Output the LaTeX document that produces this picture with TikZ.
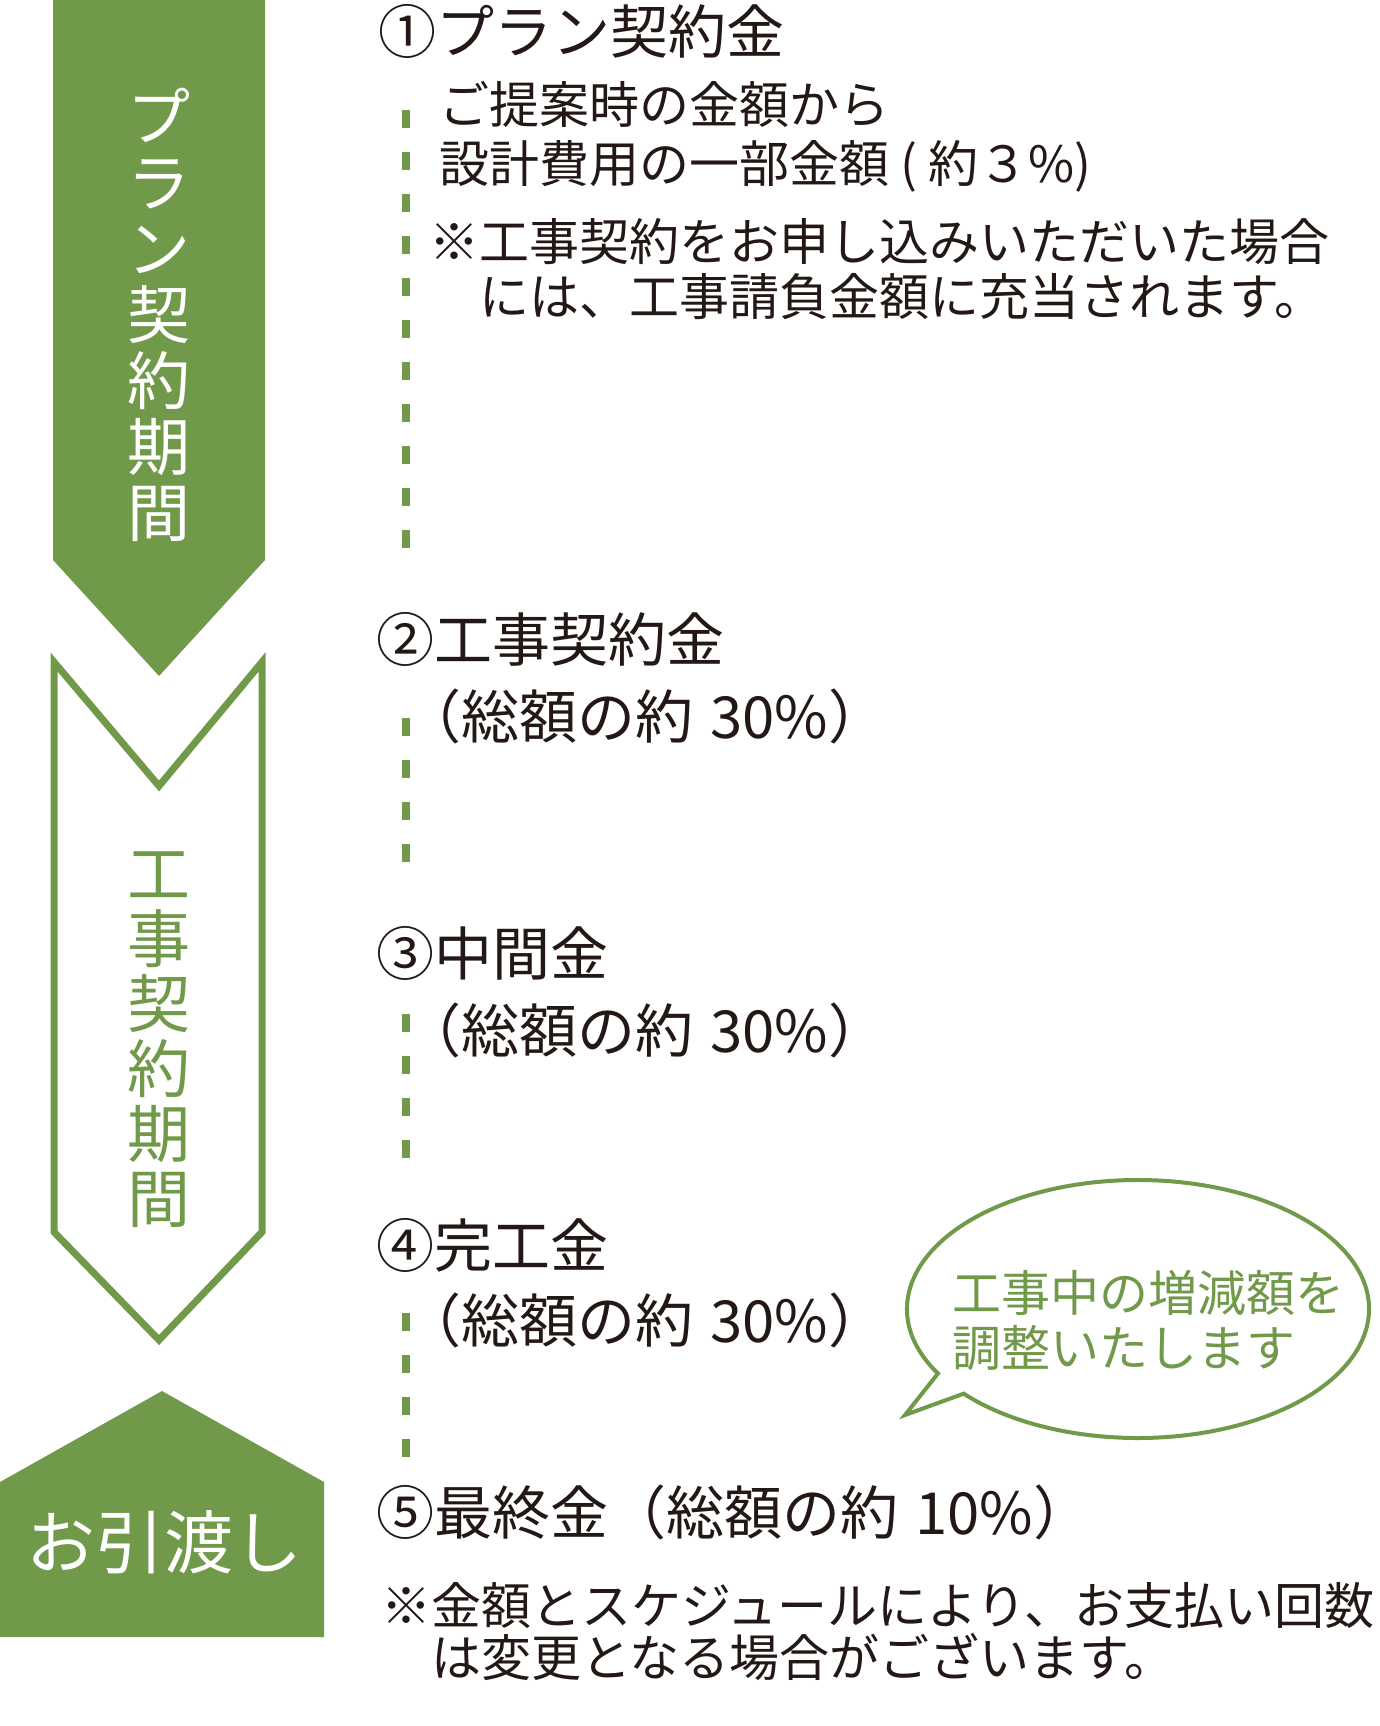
\documentclass[tikz,border=0pt]{standalone}
\usepackage{fontspec}
\setmainfont{Noto Sans CJK JP}
\definecolor{leaf}{HTML}{71994A}
\definecolor{ink}{HTML}{231815}
\newcommand{\hd}{\fontsize{58}{60}\selectfont}
\newcommand{\bd}{\fontsize{50}{55}\selectfont}
\newcommand{\rate}[1]{（総額の約\hspace{0.3em}#1\%）}
\tikzset{
  heading/.style={anchor=west, inner sep=0pt, text=ink, font=\hd},
  body/.style={anchor=west, inner sep=0pt, text=ink, align=left, font=\bd},
  dashline/.style={draw=leaf, line width=8pt, dash pattern=on 18pt off 24pt},
}

\begin{document}
\begin{tikzpicture}[x=1pt, y=-1pt]
        \useasboundingbox (0, 0) rectangle (1379, 1726);

        % left column: periods
        \fill[leaf] (53, 0) -- (265, 0) -- (265, 560) -- (159, 676) -- (53, 560) -- cycle;
        \node[text=white, align=center, inner sep=0pt, font=\fontsize{63}{66}\selectfont] (plan) at (159, 315) {プ\\ラ\\ン\\契\\約\\期\\間};

        \draw[leaf, line width=7pt] (54, 662) -- (159, 786) -- (262, 662) -- (262, 1232) -- (159, 1340) -- (54, 1232) -- cycle;
        \node[text=leaf, align=center, inner sep=0pt, font=\fontsize{63}{65}\selectfont] (works) at (159, 1040) {工\\事\\契\\約\\期\\間};

        \fill[leaf] (0, 1482) -- (162, 1391) -- (324, 1482) -- (324, 1637) -- (0, 1637) -- cycle;
        \node[text=white, inner sep=0pt, font=\fontsize{69}{70}\selectfont] (handover) at (164, 1542) {お引渡し};

        % right column: payments
        \node[heading] (pay1) at (378, 31) {①プラン契約金};
        \node[body, align=left, font=\fontsize{50}{59}\selectfont] (note1) at (439, 137) {ご提案時の金額から\\設計費用の一部金額 ( 約３\%)};
        \node[body] (note1b) at (429, 269) {※工事契約をお申し込みいただいた場合\\\quad には、工事請負金額に充当されます。};

        \node[heading] (pay2) at (376, 639) {②工事契約金};
        \node[heading] (rate2) at (403, 716) {\rate{30}};

        \node[heading] (pay3) at (376, 953) {③中間金};
        \node[heading] (rate3) at (403, 1030) {\rate{30}};

        \node[heading] (pay4) at (376, 1245) {④完工金};
        \node[heading] (rate4) at (403, 1320) {\rate{30}};

        \node[heading] (pay5) at (376, 1512) {⑤最終金\rate{10}};
        \node[body, font=\fontsize{50}{52}\selectfont] (note5) at (381, 1632) {※金額とスケジュールにより、お支払い回数\\\quad は変更となる場合がございます。};

        % dashed guides
        \coordinate (d1a) at (406, 110);  \coordinate (d1b) at (406, 549);
        \coordinate (d2a) at (406, 718);  \coordinate (d2b) at (406, 862);
        \coordinate (d3a) at (406, 1014); \coordinate (d3b) at (406, 1160);
        \coordinate (d4a) at (406, 1313); \coordinate (d4b) at (406, 1461);
        \draw[dashline] (d1a) -- (d1b);
        \draw[dashline] (d2a) -- (d2b);
        \draw[dashline] (d3a) -- (d3b);
        \draw[dashline] (d4a) -- (d4b);

        % speech bubble
        \coordinate (bubble) at (1138, 1309);
        \coordinate (tail) at (905, 1415);
        \draw[leaf, line width=4pt, fill=white] (bubble) ++(150:231 and 129) arc[start angle=150, end angle=499, x radius=231, y radius=129] -- (tail) -- cycle;
        \node[text=leaf, anchor=west, inner sep=0pt, align=left, font=\fontsize{49}{55}\selectfont] (bubbletext) at (952, 1320) {工事中の増減額を\\調整いたします};

\end{tikzpicture}
\end{document}
